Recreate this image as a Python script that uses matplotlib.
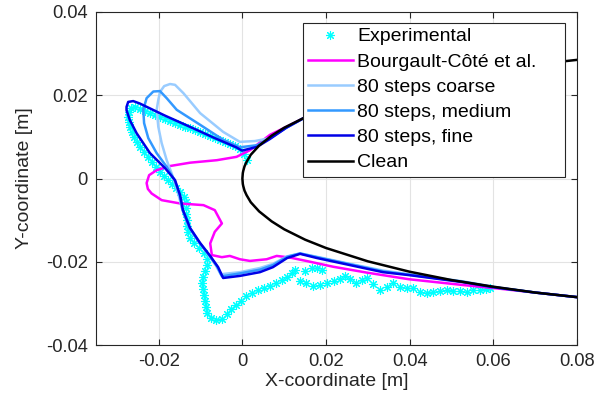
import matplotlib
matplotlib.use("Agg")
import matplotlib.pyplot as plt
from matplotlib.patches import Rectangle

plt.rcParams['font.family'] = ['Liberation Sans', 'DejaVu Sans']

# ---------------- data ----------------
exp_x = [0.0011, 0.0004, -0.0006, -0.0018, -0.0030, -0.0042, -0.0054, -0.0066, -0.0077, -0.0089,
         -0.0101, -0.0113, -0.0125, -0.0137, -0.0149, -0.0161, -0.0173, -0.0185, -0.0197, -0.0209,
         -0.0221, -0.0233, -0.0245, -0.0257, -0.0266, -0.0271, -0.0273, -0.0271, -0.0268, -0.0264,
         -0.0259, -0.0252, -0.0245, -0.0235, -0.0226, -0.0216, -0.0207, -0.0197, -0.0187, -0.0178,
         -0.0168, -0.0159, -0.0149, -0.0140, -0.0135, -0.0135, -0.0135, -0.0133, -0.0133, -0.0130,
         -0.0125, -0.0116, -0.0104, -0.0092, -0.0085, -0.0085, -0.0089, -0.0094, -0.0097, -0.0094,
         -0.0092, -0.0089, -0.0087, -0.0085, -0.0075, -0.0063, -0.0049, -0.0037, -0.0027, -0.0015,
         -0.0003, 0.0009, 0.0023, 0.0037, 0.0052, 0.0066, 0.0080, 0.0095, 0.0107, 0.0119,
         0.0126, 0.0150, 0.0166, 0.0178, 0.0190, 0.0138, 0.0152, 0.0169, 0.0186, 0.0202,
         0.0219, 0.0233, 0.0245, 0.0257, 0.0272, 0.0286, 0.0298, 0.0312, 0.0329, 0.0346,
         0.0360, 0.0377, 0.0393, 0.0408, 0.0425, 0.0441, 0.0456, 0.0472, 0.0489, 0.0503,
         0.0520, 0.0537, 0.0551, 0.0568, 0.0582, 0.0592]
exp_y = [0.0044, 0.0059, 0.0071, 0.0078, 0.0083, 0.0088, 0.0093, 0.0097, 0.0102, 0.0107,
         0.0112, 0.0117, 0.0121, 0.0124, 0.0129, 0.0133, 0.0138, 0.0143, 0.0148, 0.0153,
         0.0157, 0.0162, 0.0167, 0.0172, 0.0169, 0.0160, 0.0148, 0.0136, 0.0124, 0.0112,
         0.0100, 0.0088, 0.0076, 0.0064, 0.0052, 0.0040, 0.0028, 0.0016, 0.0006, -0.0004,
         -0.0013, -0.0023, -0.0032, -0.0044, -0.0056, -0.0071, -0.0085, -0.0100, -0.0114, -0.0129,
         -0.0143, -0.0155, -0.0167, -0.0179, -0.0194, -0.0208, -0.0222, -0.0236, -0.0251, -0.0266,
         -0.0280, -0.0294, -0.0309, -0.0323, -0.0335, -0.0340, -0.0338, -0.0326, -0.0314, -0.0304,
         -0.0294, -0.0282, -0.0275, -0.0268, -0.0263, -0.0258, -0.0251, -0.0244, -0.0236, -0.0227,
         -0.0220, -0.0222, -0.0215, -0.0215, -0.0220, -0.0246, -0.0251, -0.0258, -0.0256, -0.0251,
         -0.0246, -0.0241, -0.0234, -0.0241, -0.0251, -0.0244, -0.0239, -0.0254, -0.0268, -0.0261,
         -0.0251, -0.0261, -0.0263, -0.0263, -0.0273, -0.0275, -0.0273, -0.0270, -0.0268, -0.0270,
         -0.0270, -0.0273, -0.0268, -0.0268, -0.0266, -0.0263]

bc_x = [0.03, 0.02, 0.015, 0.0105, 0.0066, 0.0018, -0.0014, -0.0061, -0.0125, -0.0173,
        -0.0205, -0.0223, -0.0229, -0.0226, -0.0217, -0.0193, -0.0149, -0.0093, -0.0066, -0.0049,
        -0.0066, -0.0077, -0.0073, -0.0049, -0.0030, -0.0006, 0.0018, 0.0058, 0.0082, 0.0114,
        0.0162, 0.0217, 0.0297, 0.0398, 0.0528, 0.0608, 0.07, 0.08, 0.09]
bc_y = [0.0199, 0.0167, 0.0147, 0.0124, 0.0105, 0.0068, 0.0052, 0.0044, 0.0038, 0.0030,
        0.0020, 0.0008, -0.0011, -0.0025, -0.0036, -0.0052, -0.0060, -0.0064, -0.0076, -0.0108,
        -0.0128, -0.0156, -0.0184, -0.0189, -0.0186, -0.0194, -0.0198, -0.0194, -0.0186, -0.0190,
        -0.0200, -0.0212, -0.0226, -0.0242, -0.0256, -0.0264, -0.0274, -0.0285, -0.0294]

coarse_x = [0.03, 0.02, 0.015, 0.0105, 0.0066, 0.0030, -0.0006, -0.0046, -0.0101, -0.0141,
            -0.0161, -0.0173, -0.0187, -0.0197, -0.0201, -0.0205, -0.0201, -0.0193, -0.0181, -0.0169,
            -0.0155, -0.0145, -0.0130, -0.0106, -0.0082, -0.0064, -0.0052, -0.0006, 0.0042, 0.0073,
            0.0107, 0.0138, 0.0178, 0.0257, 0.0336, 0.0398, 0.0527, 0.0599, 0.07, 0.08, 0.09]
coarse_y = [0.0199, 0.0167, 0.0147, 0.0122, 0.0097, 0.0090, 0.0088, 0.0112, 0.0157, 0.0205,
            0.0225, 0.0227, 0.0222, 0.0208, 0.0189, 0.0165, 0.0124, 0.0085, 0.0044, 0.0012,
            -0.0030, -0.0070, -0.0112, -0.0150, -0.0182, -0.0208, -0.0230, -0.0225, -0.0215, -0.0205,
            -0.0187, -0.0180, -0.0188, -0.0205, -0.0221, -0.0230, -0.0247, -0.0260, -0.0274, -0.0285, -0.0294]

medium_x = [0.03, 0.02, 0.015, 0.0105, 0.0066, 0.0035, -0.0006, -0.0046, -0.0101, -0.0157,
            -0.0181, -0.0197, -0.0213, -0.0229, -0.0237, -0.0235, -0.0225, -0.0205, -0.0181, -0.0162,
            -0.0150, -0.0143, -0.0127, -0.0103, -0.0079, -0.0060, -0.0049, -0.0006, 0.0042, 0.0073,
            0.0107, 0.0138, 0.0178, 0.0257, 0.0336, 0.0398, 0.0527, 0.0599, 0.07, 0.08, 0.09]
medium_y = [0.0199, 0.0167, 0.0147, 0.0122, 0.0097, 0.0080, 0.0075, 0.0093, 0.0129, 0.0165,
            0.0193, 0.0210, 0.0209, 0.0193, 0.0165, 0.0133, 0.0097, 0.0061, 0.0028, -0.0004,
            -0.0040, -0.0076, -0.0118, -0.0154, -0.0185, -0.0212, -0.0235, -0.0228, -0.0219, -0.0208,
            -0.0188, -0.0180, -0.0189, -0.0206, -0.0223, -0.0231, -0.0248, -0.0261, -0.0274, -0.0285, -0.0294]

fine_x = [0.03, 0.02, 0.015, 0.0105, 0.0066, 0.0035, -0.0001, -0.0015, -0.0066, -0.0125,
          -0.0185, -0.0245, -0.0261, -0.0273, -0.0277, -0.0277, -0.0269, -0.0253, -0.0221, -0.0185,
          -0.0161, -0.0149, -0.0142, -0.0125, -0.0101, -0.0077, -0.0058, -0.0046, -0.0006, 0.0042,
          0.0073, 0.0107, 0.0138, 0.0178, 0.0257, 0.0336, 0.0398, 0.0527, 0.0599, 0.07, 0.08, 0.09]
fine_y = [0.0199, 0.0167, 0.0147, 0.0122, 0.0095, 0.0076, 0.0067, 0.0075, 0.0097, 0.0124,
          0.0151, 0.0180, 0.0186, 0.0184, 0.0172, 0.0164, 0.0140, 0.0109, 0.0061, 0.0025,
          -0.0004, -0.0040, -0.0076, -0.0119, -0.0155, -0.0186, -0.0213, -0.0239, -0.0234, -0.0225,
          -0.0213, -0.0191, -0.0181, -0.0191, -0.0208, -0.0225, -0.0232, -0.0249, -0.0261, -0.0274, -0.0285, -0.0294]

clean_x = [0.09, 0.08, 0.07, 0.06, 0.05, 0.04, 0.03, 0.02, 0.015, 0.01, 0.007, 0.004, 0.002, 0.001,
           0.0005, 0.0002, 0.0001, 0.0, 0.0001, 0.0002, 0.0005, 0.001, 0.002, 0.004, 0.007, 0.01,
           0.015, 0.02, 0.03, 0.04, 0.05, 0.06, 0.07, 0.08, 0.09]
clean_y = [0.0294, 0.0285, 0.0274, 0.0260, 0.0244, 0.0224, 0.0199, 0.0167, 0.0147, 0.0122, 0.0103,
           0.0079, 0.0057, 0.0040, 0.0029, 0.0018, 0.0013, 0.0, -0.0013, -0.0018, -0.0029, -0.0040,
           -0.0057, -0.0079, -0.0103, -0.0122, -0.0147, -0.0167, -0.0199, -0.0224, -0.0244, -0.0260,
           -0.0274, -0.0285, -0.0294]

x_ticks = [-0.02, 0, 0.02, 0.04, 0.06, 0.08]
x_ticklabels = ['-0.02', '0', '0.02', '0.04', '0.06', '0.08']
y_ticks = [-0.04, -0.02, 0, 0.02, 0.04]
y_ticklabels = ['-0.04', '-0.02', '0', '0.02', '0.04']

# ---------------- plot ----------------
W, H = 594, 408
fig = plt.figure(figsize=(W / 100, H / 100), dpi=100)
ax_l, ax_r, ax_t, ax_b = 96, 577, 12, 345
ax = fig.add_axes([ax_l / W, (H - ax_b) / H, (ax_r - ax_l) / W, (ax_b - ax_t) / H])

ax.plot(exp_x, exp_y, linestyle='none', marker=(8, 2, 0), markersize=6.5,
        markeredgewidth=0.8, color=(0, 1, 1), label='Experimental')
ax.plot(bc_x, bc_y, color=(1, 0, 1), lw=1.8, label='Bourgault-Côté et al.')
ax.plot(coarse_x, coarse_y, color='#99CCFF', lw=1.8, label='80 steps coarse')
ax.plot(medium_x, medium_y, color='#3399FF', lw=1.8, label='80 steps, medium')
ax.plot(fine_x, fine_y, color='#0000E6', lw=1.8, label='80 steps, fine')
ax.plot(clean_x, clean_y, color='black', lw=1.8, label='Clean')

ax.set_xlim(-0.035, 0.08)
ax.set_ylim(-0.04, 0.04)
ax.set_xticks(x_ticks)
ax.set_xticklabels(x_ticklabels)
ax.set_yticks(y_ticks)
ax.set_yticklabels(y_ticklabels)

tc = (0.15, 0.15, 0.15)
ax.grid(True, color='#E3E3E3', lw=0.8)
ax.set_axisbelow(True)
for s in ax.spines.values():
    s.set_color(tc)
    s.set_linewidth(0.8)
ax.tick_params(direction='in', length=4, width=0.8, colors=tc, labelsize=13.2,
               top=True, right=True, labelcolor=tc, pad=6)

ax.set_xlabel('X-coordinate [m]', fontsize=14, color=tc, labelpad=2)
ax.set_ylabel('Y-coordinate [m]', fontsize=14, color=tc, labelpad=9)

# legend box (MATLAB style, wider than its contents)
bw = ax_r - ax_l
bh = ax_b - ax_t
lx0, lx1, ly0, ly1 = 303, 565, 23, 177
box = Rectangle(((lx0 - ax_l) / bw, (ax_b - ly1) / bh), (lx1 - lx0) / bw, (ly1 - ly0) / bh,
                transform=ax.transAxes, facecolor='white', edgecolor=tc, lw=0.8, zorder=4.9)
ax.add_patch(box)
leg = ax.legend(loc='upper left', bbox_to_anchor=((lx0 - ax_l) / bw, (ax_b - ly0) / bh),
                fontsize=14, frameon=False, handlelength=2.3, handletextpad=0.25,
                labelspacing=0.39, borderpad=0.25, borderaxespad=0.0)
leg.set_zorder(5)

fig.savefig('out.png', dpi=100)
